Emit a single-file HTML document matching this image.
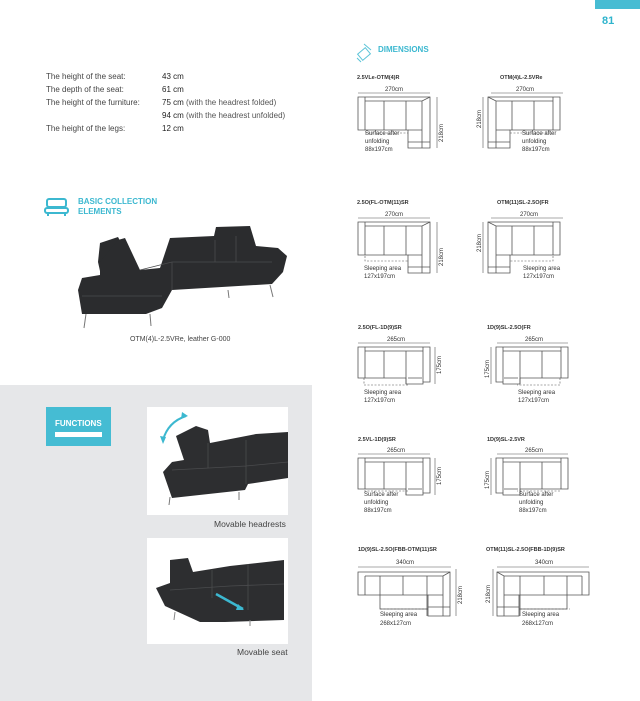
<!DOCTYPE html>
<html><head><meta charset="utf-8"><style>
body{margin:0;width:640px;height:701px;position:relative;background:#fff;font-family:"Liberation Sans",sans-serif;overflow:hidden}
.t{position:absolute;font-size:8px;color:#444;white-space:nowrap}
.b{color:#222}
</style></head><body>
<div style="position:absolute;left:595px;top:0;width:45px;height:9px;background:#47bcd3"></div>
<div class="t" style="left:602px;top:15px;font-size:11px;font-weight:bold;color:#2fb4cd">81</div>

<div class="t" style="left:46px;top:72px">The height of the seat:</div><div class="t b" style="left:162px;top:72px">43 cm</div>
<div class="t" style="left:46px;top:85px">The depth of the seat:</div><div class="t b" style="left:162px;top:85px">61 cm</div>
<div class="t" style="left:46px;top:98px">The height of the furniture:</div><div class="t b" style="left:162px;top:98px">75 cm <span style="color:#555">(with the headrest folded)</span></div>
<div class="t b" style="left:162px;top:111px">94 cm <span style="color:#555">(with the headrest unfolded)</span></div>
<div class="t" style="left:46px;top:124px">The height of the legs:</div><div class="t b" style="left:162px;top:124px">12 cm</div>

<div class="t" style="left:78px;top:197px;font-size:8px;font-weight:bold;color:#3cb8d0;line-height:10px">BASIC COLLECTION<br>ELEMENTS</div>
<svg style="position:absolute;left:44px;top:198px" width="26" height="20"><g fill="none" stroke="#3cb8d0" stroke-width="2"><rect x="3" y="1" width="19" height="8" rx="2"/><rect x="1" y="10" width="23" height="5" rx="2"/><path d="M4 15v3M21 15v3"/></g></svg>
<div class="t" style="left:130px;top:336px;font-size:7px">OTM(4)L-2.5VRe, leather G-000</div>

<div style="position:absolute;left:0;top:385px;width:312px;height:316px;background:#e6e7e9"></div>
<div style="position:absolute;left:46px;top:407px;width:65px;height:39px;background:#45bcd3"></div>
<div class="t" style="left:55px;top:419px;font-size:8px;font-weight:bold;color:#fff">FUNCTIONS</div>
<div style="position:absolute;left:55px;top:432px;width:47px;height:5px;background:#fff"></div>
<div style="position:absolute;left:147px;top:407px;width:141px;height:108px;background:#fff"></div>
<div style="position:absolute;left:147px;top:538px;width:141px;height:106px;background:#fff"></div>
<div class="t" style="left:214px;top:519px;font-size:8.5px">Movable headrests</div>
<div class="t" style="left:237px;top:647px;font-size:8.5px">Movable seat</div>

<svg style="position:absolute;left:0;top:0" width="640" height="701">
<!-- main sofa photo -->
<g fill="#2b2c2e">
<path d="M100 243 L118 237 L125 250 L122 275 L102 280 L98 262Z"/>
<path d="M118 240 L125 238 L140 270 L160 268 L170 238 L214 236 L216 227 L250 226 L256 246 L278 248 L287 256 L283 272 L272 284 L172 290 L162 308 L146 314 L82 314 L78 290 L82 278 L100 275 L100 262Z"/>
</g>
<g stroke="#4a4b4d" stroke-width="0.8" fill="none"><path d="M140 270L172 262H272M172 262V290M82 296H162M215 240V262M236 236V262"/></g>
<g stroke="#777" stroke-width="1"><path d="M86 314l-2 14M150 314l1 12M228 290l1 8M270 285l3 12"/></g>
<!-- headrest photo -->
<g fill="#2d2e30"><path d="M176 436 L196 426 L208 430 L210 443 L256 434 L288 432 L288 478 L248 484 L245 490 L172 498 L163 472 L172 462 L184 460Z"/></g>
<g stroke="#4a4b4d" stroke-width="0.8" fill="none"><path d="M172 470L246 466L288 462M208 443V468M246 440V484"/></g>
<path d="M163 440 Q168 422 186 416" stroke="#3cb8d0" stroke-width="2" fill="none"/>
<path d="M182 412l6 4-7 3z M160 436l3 8 3-7z" fill="#3cb8d0"/>
<g stroke="#777"><path d="M170 497l-1 8M239 492l0 8"/></g>
<!-- seat photo -->
<g fill="#2d2e30"><path d="M170 560 L188 558 L193 572 L230 566 L284 560 L284 620 L225 622 L200 622 L165 606 L156 588 L170 583Z"/></g>
<g stroke="#4a4b4d" stroke-width="0.8" fill="none"><path d="M170 590L230 586L284 584M212 570V598M248 564V610"/></g>
<path d="M216 594 L243 609" stroke="#3cb8d0" stroke-width="2.5"/>
<path d="M238 604l6 6-8 0z" fill="#3cb8d0"/>
<g stroke="#888"><path d="M175 612l-1 8M250 620l0 6"/></g>
<!-- dimensions icon/header -->
<g fill="none" stroke="#5cc4d8" stroke-width="1"><rect x="359" y="50" width="10" height="8" transform="rotate(-40 364 54)"/><path d="M357 58l4 4M364 44l7 6"/></g>
<text x="378" y="52" font-size="8" font-weight="bold" fill="#3cb8d0" font-family="Liberation Sans">DIMENSIONS</text>

<defs>
<g id="L218" fill="none" stroke="#555" stroke-width="0.8">
<path d="M0 0H72V51H50V33H0Z"/><path d="M7 0V33M7 4H64L72 0M64 4V51M26 4V33M48 4V33M50 33H64M50 45H72"/>
</g>
<g id="L175" fill="none" stroke="#555" stroke-width="0.8">
<path d="M0 0H72V35H65V37H48V31H0Z"/><path d="M7 0V31M7 4H65V33M65 0V35M26 4V31M48 4V37M50 31H64"/>
</g>
<g id="L340" fill="none" stroke="#555" stroke-width="0.8">
<path d="M0 0H92V44H70V23H0Z"/><path d="M7 4V23M7 4H85L92 0M85 4V44M22 4V23M45 4V23M69 4V44M70 23H85M70 35H92M22 23V37H70"/>
</g>
</defs>
<g font-family="Liberation Sans" font-size="6" fill="#333">
<!-- row1 -->
<text x="357" y="79" font-weight="bold" font-size="5.5">2.5VLe-OTM(4)R</text>
<text x="500" y="79" font-weight="bold" font-size="5.5">OTM(4)L-2.5VRe</text>
<use href="#L218" x="358" y="97"/><use href="#L218" transform="translate(560 97) scale(-1 1)"/>
<path d="M358 93H430M437 97V148M491 93H563M483 97V148" stroke="#555" stroke-width="0.6"/>
<text x="385" y="91">270cm</text><text x="516" y="91">270cm</text>
<text transform="translate(443 142) rotate(-90)">218cm</text><text transform="translate(481 128) rotate(-90)">218cm</text>
<path d="M365 133H408M510 133H553" stroke="#555" stroke-width="0.6" stroke-dasharray="2 1.5"/>
<text x="365" y="135">Surface after</text><text x="365" y="143">unfolding</text><text x="365" y="151">88x197cm</text>
<text x="522" y="135">Surface after</text><text x="522" y="143">unfolding</text><text x="522" y="151">88x197cm</text>
<!-- row2 -->
<text x="357" y="204" font-weight="bold" font-size="5.5">2.5O(FL-OTM(11)SR</text>
<text x="497" y="204" font-weight="bold" font-size="5.5">OTM(11)SL-2.5O(FR</text>
<use href="#L218" x="358" y="222"/><use href="#L218" transform="translate(560 222) scale(-1 1)"/>
<path d="M358 218H430M437 222V273M491 218H563M483 222V273" stroke="#555" stroke-width="0.6"/>
<text x="385" y="216">270cm</text><text x="520" y="216">270cm</text>
<text transform="translate(443 266) rotate(-90)">218cm</text><text transform="translate(481 252) rotate(-90)">218cm</text>
<path d="M365 256V261H408M553 256V261H510" fill="none" stroke="#555" stroke-width="0.6" stroke-dasharray="2 1.5"/>
<text x="364" y="270">Sleeping area</text><text x="364" y="278">127x197cm</text>
<text x="523" y="270">Sleeping area</text><text x="523" y="278">127x197cm</text>
<!-- row3 -->
<text x="358" y="329" font-weight="bold" font-size="5.5">2.5O(FL-1D(9)SR</text>
<text x="487" y="329" font-weight="bold" font-size="5.5">1D(9)SL-2.5O(FR</text>
<use href="#L175" x="358" y="347"/><use href="#L175" transform="translate(568 347) scale(-1 1)"/>
<path d="M358 343H430M435 347V384M497 343H568M491 347V384" stroke="#555" stroke-width="0.6"/>
<text x="387" y="341">265cm</text><text x="525" y="341">265cm</text>
<text transform="translate(441 374) rotate(-90)">175cm</text><text transform="translate(489 378) rotate(-90)">175cm</text>
<path d="M364 378V385H408M560 378V385H517" fill="none" stroke="#555" stroke-width="0.6" stroke-dasharray="2 1.5"/>
<text x="364" y="394">Sleeping area</text><text x="364" y="402">127x197cm</text>
<text x="518" y="394">Sleeping area</text><text x="518" y="402">127x197cm</text>
<!-- row4 -->
<text x="358" y="441" font-weight="bold" font-size="5.5">2.5VL-1D(9)SR</text>
<text x="487" y="441" font-weight="bold" font-size="5.5">1D(9)SL-2.5VR</text>
<use href="#L175" x="358" y="458"/><use href="#L175" transform="translate(568 458) scale(-1 1)"/>
<path d="M358 454H430M435 458V495M497 454H568M491 458V495" stroke="#555" stroke-width="0.6"/>
<text x="387" y="452">265cm</text><text x="525" y="452">265cm</text>
<text transform="translate(441 485) rotate(-90)">175cm</text><text transform="translate(489 489) rotate(-90)">175cm</text>
<path d="M364 491H408M560 491H517" stroke="#555" stroke-width="0.6" stroke-dasharray="2 1.5"/>
<text x="364" y="496">Surface after</text><text x="364" y="504">unfolding</text><text x="364" y="512">88x197cm</text>
<text x="519" y="496">Surface after</text><text x="519" y="504">unfolding</text><text x="519" y="512">88x197cm</text>
<!-- row5 -->
<text x="358" y="551" font-weight="bold" font-size="5.5">1D(9)SL-2.5O(FBB-OTM(11)SR</text>
<text x="486" y="551" font-weight="bold" font-size="5.5">OTM(11)SL-2.5O(FBB-1D(9)SR</text>
<use href="#L340" x="358" y="572"/><use href="#L340" transform="translate(589 572) scale(-1 1)"/>
<path d="M358 567H451M456 569V616M497 567H589M493 569V616" stroke="#555" stroke-width="0.6"/>
<text x="396" y="564">340cm</text><text x="535" y="564">340cm</text>
<text transform="translate(462 604) rotate(-90)">218cm</text><text transform="translate(490 603) rotate(-90)">218cm</text>
<path d="M380 609H428M520 609H570" stroke="#555" stroke-width="0.6" stroke-dasharray="2 1.5"/>
<text x="380" y="616">Sleeping area</text><text x="380" y="625">268x127cm</text>
<text x="522" y="616">Sleeping area</text><text x="522" y="625">268x127cm</text>
</g>
</svg>
</body></html>
